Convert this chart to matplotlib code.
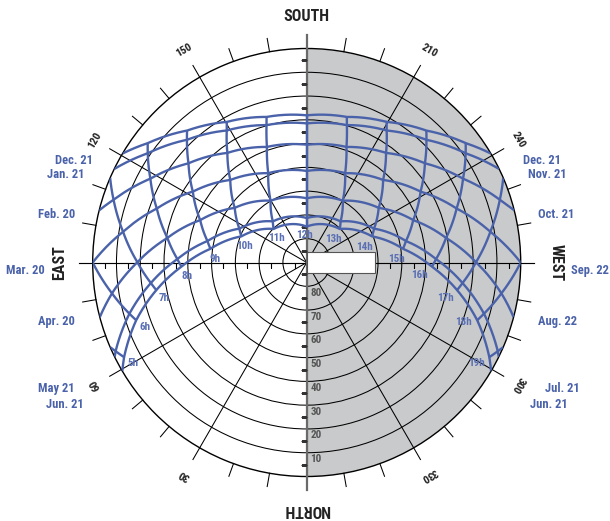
import os
import numpy as np
import matplotlib
matplotlib.use("Agg")
import matplotlib.pyplot as plt
from matplotlib.patches import Rectangle
from matplotlib import markers
from matplotlib import font_manager as fm

# ---------- choose a bold condensed font if one is installed ----------
_files = {}
for _f in fm.fontManager.ttflist:
    _files.setdefault(os.path.basename(_f.fname).lower().rsplit('.', 1)[0], _f.fname)
_prefs = [('liberationsansnarrow-bold', 1.0), ('robotocondensed-bold', 1.0),
          ('notosans-condensedbold', 0.97), ('opensans-condensedbold', 0.97),
          ('opensans_condensed-bold', 0.97), ('liberationsans-bold', 0.88),
          ('dejavusanscondensed-bold', 0.85)]
FONT_FILE, SC = None, 0.8
for _k, _s in _prefs:
    if _k in _files:
        FONT_FILE, SC = _files[_k], _s
        break


def fp(size):
    if FONT_FILE:
        return fm.FontProperties(fname=FONT_FILE, size=size * SC)
    return fm.FontProperties(family=['Liberation Sans', 'DejaVu Sans'], weight='bold', size=size * SC)


BLUE = '#4a62aa'
LBLUE = '#5b70b4'
GRAYFILL = '#c9cacb'

# ---------------- data (azimuth deg from north, altitude deg) ----------------
# date curves, sunrise -> sunset
dec21_az = [120.6, 126.9, 137.8, 150.4, 164.6, 180.0, 195.4, 209.6, 222.2, 233.1, 239.4]
dec21_alt = [0.0, 6.4, 15.1, 22.0, 26.5, 28.1, 26.5, 22.0, 15.1, 6.4, 0.0]

jan21_az = [115.9, 124.5, 135.7, 148.8, 163.7, 180.0, 196.3, 211.2, 224.3, 235.5, 244.1]
jan21_alt = [0.0, 8.9, 17.9, 25.1, 29.8, 31.5, 29.8, 25.1, 17.9, 8.9, 0.0]

feb20_az = [104.1, 108.0, 118.2, 130.0, 144.1, 161.0, 180.0, 199.0, 215.9, 230.0, 241.8, 252.0, 255.9]
feb20_alt = [0.0, 4.6, 15.4, 25.1, 33.1, 38.6, 40.5, 38.6, 33.1, 25.1, 15.4, 4.6, 0.0]

mar20_az = [90.0, 99.5, 109.8, 121.9, 137.2, 156.7, 180.0, 203.3, 222.8, 238.1, 250.2, 260.5, 270.0]
mar20_alt = [0.0, 11.7, 23.0, 33.6, 42.7, 49.1, 51.5, 49.1, 42.7, 33.6, 23.0, 11.7, 0.0]

apr20_az = [75.2, 81.0, 90.1, 100.0, 111.7, 127.2, 149.7, 180.0, 210.3, 232.8, 248.3, 260.0, 269.9, 279.0, 284.8]
apr20_alt = [0.0, 7.1, 18.8, 30.5, 41.8, 52.0, 59.9, 63.0, 59.9, 52.0, 41.8, 30.5, 18.8, 7.1, 0.0]

may21_az = [63.8, 65.1, 73.9, 82.5, 91.5, 102.2, 116.7, 140.5, 180.0, 219.5, 243.3, 257.8, 268.5, 277.5, 286.1, 294.9, 296.2]
may21_alt = [0.0, 1.4, 12.4, 23.9, 35.6, 47.3, 58.3, 67.6, 71.3, 67.6, 58.3, 47.3, 35.6, 23.9, 12.4, 1.4, 0.0]

jun21_az = [59.5, 62.6, 71.3, 79.6, 88.1, 98.1, 111.8, 135.4, 180.0, 224.6, 248.2, 261.9, 271.9, 280.4, 288.7, 297.4, 300.5]
jun21_alt = [0.0, 3.5, 14.3, 25.7, 37.3, 49.1, 60.4, 70.2, 74.9, 70.2, 60.4, 49.1, 37.3, 25.7, 14.3, 3.5, 0.0]

# hour lines (from winter side / horizon towards Jun. 21)
h05_az = [66.7, 65.1, 62.6];  h05_alt = [0.0, 1.4, 3.5]
h06_az = [90.0, 81.0, 73.9, 71.3];  h06_alt = [0.0, 7.1, 12.4, 14.3]
h07_az = [113.3, 108.0, 99.5, 90.1, 82.5, 79.6];  h07_alt = [0.0, 4.6, 11.7, 18.8, 23.9, 25.7]
h08_az = [126.9, 124.5, 118.2, 109.8, 100.0, 91.5, 88.1];  h08_alt = [6.4, 8.9, 15.4, 23.0, 30.5, 35.6, 37.3]
h09_az = [137.8, 135.7, 130.0, 121.9, 111.7, 102.2, 98.1];  h09_alt = [15.1, 17.9, 25.1, 33.6, 41.8, 47.3, 49.1]
h10_az = [150.4, 148.8, 144.1, 137.2, 127.2, 116.7, 111.8];  h10_alt = [22.0, 25.1, 33.1, 42.7, 52.0, 58.3, 60.4]
h11_az = [164.6, 163.7, 161.0, 156.7, 149.7, 140.5, 135.4];  h11_alt = [26.5, 29.8, 38.6, 49.1, 59.9, 67.6, 70.2]
h12_az = [180.0, 180.0, 180.0, 180.0, 180.0, 180.0, 180.0];  h12_alt = [28.1, 31.5, 40.5, 51.5, 63.0, 71.3, 74.9]
h13_az = [195.4, 196.3, 199.0, 203.3, 210.3, 219.5, 224.6];  h13_alt = [26.5, 29.8, 38.6, 49.1, 59.9, 67.6, 70.2]
h14_az = [209.6, 211.2, 215.9, 222.8, 232.8, 243.3, 248.2];  h14_alt = [22.0, 25.1, 33.1, 42.7, 52.0, 58.3, 60.4]
h15_az = [222.2, 224.3, 230.0, 238.1, 248.3, 257.8, 261.9];  h15_alt = [15.1, 17.9, 25.1, 33.6, 41.8, 47.3, 49.1]
h16_az = [233.1, 235.5, 241.8, 250.2, 260.0, 268.5, 271.9];  h16_alt = [6.4, 8.9, 15.4, 23.0, 30.5, 35.6, 37.3]
h17_az = [246.7, 252.0, 260.5, 269.9, 277.5, 280.4];  h17_alt = [0.0, 4.6, 11.7, 18.8, 23.9, 25.7]
h18_az = [270.0, 279.0, 286.1, 288.7];  h18_alt = [0.0, 7.1, 12.4, 14.3]
h19_az = [293.3, 294.9, 297.4];  h19_alt = [0.0, 1.4, 3.5]

hour_labels = ['5h', '6h', '7h', '8h', '9h', '10h', '11h', '12h', '13h', '14h', '15h', '16h', '17h', '18h', '19h']

left_dates = ['Dec. 21', 'Jan. 21', 'Feb. 20', 'Mar. 20', 'Apr. 20', 'May 21', 'Jun. 21']
right_dates = ['Dec. 21', 'Nov. 21', 'Oct. 21', 'Sep. 22', 'Aug. 22', 'Jul. 21', 'Jun. 21']

azimuth_ticks = [30, 60, 120, 150, 210, 240, 300, 330]
cardinals = ['NORTH', 'EAST', 'SOUTH', 'WEST']
cardinal_az = [0, 90, 180, 270]
altitude_rings = [10, 20, 30, 40, 50, 60, 70, 80]

date_curves = [(dec21_az, dec21_alt), (jan21_az, jan21_alt), (feb20_az, feb20_alt),
               (mar20_az, mar20_alt), (apr20_az, apr20_alt), (may21_az, may21_alt),
               (jun21_az, jun21_alt)]
hour_lines = [(h05_az, h05_alt), (h06_az, h06_alt), (h07_az, h07_alt), (h08_az, h08_alt),
              (h09_az, h09_alt), (h10_az, h10_alt), (h11_az, h11_alt), (h12_az, h12_alt),
              (h13_az, h13_alt), (h14_az, h14_alt), (h15_az, h15_alt), (h16_az, h16_alt),
              (h17_az, h17_alt), (h18_az, h18_alt), (h19_az, h19_alt)]

# ---------------- figure ----------------
W, H = 610, 521
fig = plt.figure(figsize=(W / 100, H / 100), dpi=100)
CX, CY, R = 306.7, 262.5, 214.0
ax = fig.add_axes([(CX - R) / W, (H - CY - R) / H, 2 * R / W, 2 * R / H], projection='polar')
ax.set_theta_zero_location('S')
ax.set_theta_direction(-1)
ax.set_ylim(0, 90)
ax.set_axisbelow(True)
ax.set_thetagrids(np.arange(0, 360, 30), labels=[''] * 12)
ax.set_rgrids(np.arange(10, 90, 10), labels=[''] * 8)
ax.grid(True, color='black', lw=0.75)
ax.tick_params(length=0)
ax.spines['polar'].set_color('black')
ax.spines['polar'].set_linewidth(1.0)

EXT = 90 + 13.5 / R * 90  # outer tick length


def zen(alt):
    return 90 - np.asarray(alt, dtype=float)


# west half shading
th_fill = np.deg2rad(np.linspace(180, 360, 200))
ax.fill_between(th_fill, 0, 90, color=GRAYFILL, zorder=0.1, lw=0)

# outer 10-degree ticks
for a in range(0, 360, 10):
    if a in (0, 180):
        continue
    ax.plot([np.deg2rad(a)] * 2, [90, EXT], color='black', lw=0.75, clip_on=False, zorder=1)

# north-south axis (gray)
for a in (0, 180):
    ax.plot([np.deg2rad(a)] * 2, [0, EXT], color='#6a6a6a', lw=1.6, clip_on=False, zorder=2.6)
# east-west axis
for a in (90, 270):
    ax.plot([np.deg2rad(a)] * 2, [0, EXT], color='black', lw=0.8, clip_on=False, zorder=1)

half = np.arange(5, 90, 10)
for a in (0, 180):
    ax.plot([np.deg2rad(a)] * len(half), half, ls='none', marker=markers.TICKLEFT,
            ms=4.6, mew=0.8, color='#333333', zorder=2.7)
for a in (90, 270):
    ax.plot([np.deg2rad(a)] * len(half), half, ls='none', marker=markers.TICKDOWN,
            ms=3.4, mew=0.8, color='black', zorder=2.7)

# sun path curves
for az, alt in date_curves:
    ln, = ax.plot(np.deg2rad(az), zen(alt), color=BLUE, lw=1.7, zorder=3,
                  solid_capstyle='butt', solid_joinstyle='round')
    ln.get_path()._interpolation_steps = 40
for az, alt in hour_lines:
    ln, = ax.plot(np.deg2rad(az), zen(alt), color=BLUE, lw=1.7, zorder=3,
                  solid_capstyle='butt', solid_joinstyle='round')
    ln.get_path()._interpolation_steps = 20

# hour labels, placed relative to the Jun. 21 points
hour_offsets = [(8.8, 5.6), (9.1, 6.4), (7.4, 8.1), (6.1, 9.4), (4.4, 10.6), (3.4, 9.6),
                (2.7, 9.2), (-2.0, 8.3), (-6.7, 10.2), (-7.4, 10.3), (-6.7, 10.6),
                (-12.1, 8.4), (-11.7, 7.5), (-14.1, 2.0), (-12.8, 5.6)]
for i, lab in enumerate(hour_labels):
    a = jun21_az[i + 1]
    z = 90 - jun21_alt[i + 1]
    dx, dy = hour_offsets[i]
    ax.annotate(lab, xy=(np.deg2rad(a), z), xytext=(dx, -dy), textcoords='offset pixels',
                ha='center', va='center', fontproperties=fp(8.0), color=LBLUE, zorder=4)

# altitude labels
for alt in altitude_rings:
    ax.annotate(str(alt), xy=(0, 90 - alt), xytext=(3.5, -6.5), textcoords='offset pixels',
                ha='left', va='center', fontproperties=fp(8), color='#555555', zorder=4)

# azimuth numbers
for a in azimuth_ticks:
    ax.text(np.deg2rad(a), 102.9, str(a), rotation=180 - a, ha='center', va='center',
            fontproperties=fp(8), color='#222222', zorder=4)
card_r = [103.7, 104.0, 103.4, 105.0]
for name, a, rr in zip(cardinals, cardinal_az, card_r):
    ax.text(np.deg2rad(a), rr, name, rotation=180 - a, ha='center', va='center',
            fontproperties=fp(11.5), color='#222222', zorder=4)

# date labels
left_pos = [(92.7, 160), (84.0, 175), (75.0, 215), (44.8, 270.7), (75.0, 321.7), (75.0, 388.3), (83.3, 405)]
right_pos = [(522.7, 160), (528.3, 175), (538.3, 215), (538.3, 321.7), (545.0, 388.3), (530.0, 405)]
for lab, (x, y) in zip(left_dates, left_pos):
    fig.text(x / W, 1 - y / H, lab, ha='right', va='center', fontproperties=fp(9), color=BLUE)
right_no_sep = [d for d in right_dates if d != 'Sep. 22']
for lab, (x, y) in zip(right_no_sep, right_pos):
    fig.text(x / W, 1 - y / H, lab, ha='left', va='center', fontproperties=fp(9), color=BLUE)
# the equinox label sits at the right edge of the picture
fig.text(609 / W, 1 - 270.7 / H, right_dates[3], ha='right', va='center',
         fontproperties=fp(9), color=BLUE)

# white box near centre
fig.add_artist(Rectangle((307.3 / W, 1 - 272.7 / H), (375 - 307.3) / W, (272.7 - 251.7) / H,
                         transform=fig.transFigure, facecolor='white', edgecolor='#555555',
                         lw=0.8, zorder=5))

fig.savefig('out.png', dpi=100)
